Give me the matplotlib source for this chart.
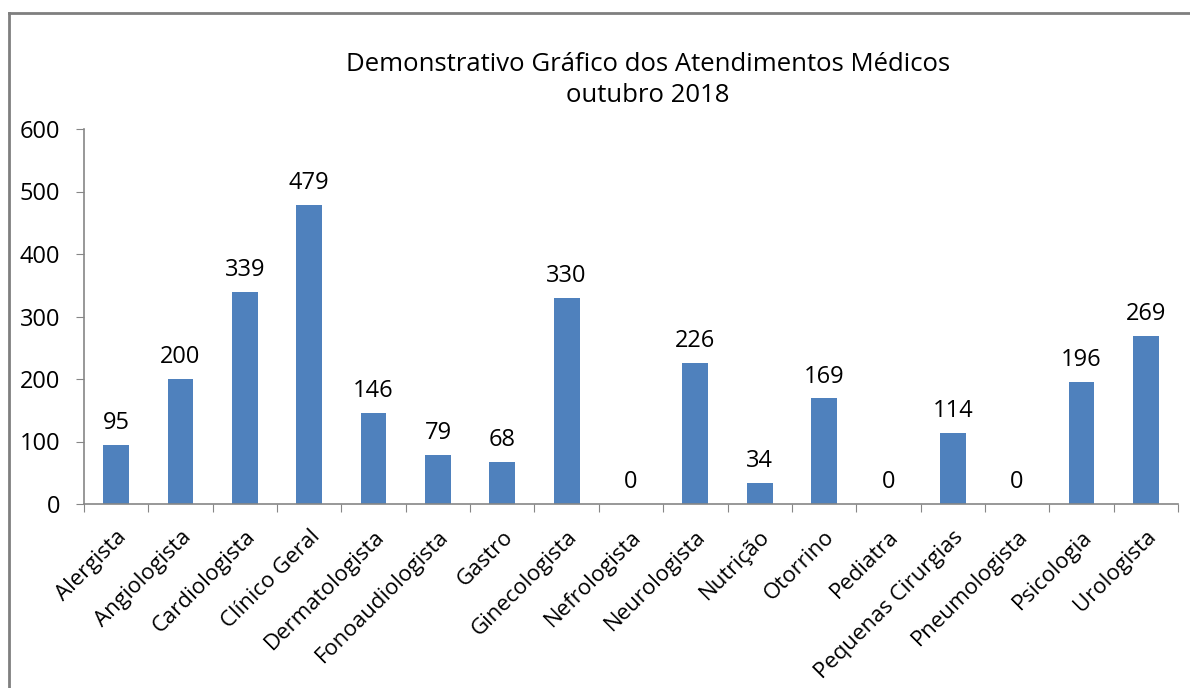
#!/usr/bin/env python3

import matplotlib
matplotlib.use("Agg")
import matplotlib.pyplot as plt
from matplotlib.lines import Line2D

# dados do grafico (outubro 2018)
especialidades = ["Alergista", "Angiologista", "Cardiologista", "Clínico Geral",
                  "Dermatologista", "Fonoaudiologista", "Gastro", "Ginecologista",
                  "Nefrologista", "Neurologista", "Nutrição", "Otorrino", "Pediatra",
                  "Pequenas Cirurgias", "Pneumologista", "Psicologia", "Urologista"]
atendimentos = [95, 200, 339, 479, 146, 79, 68, 330, 0, 226, 34, 169, 0, 114, 0, 196, 269]
yticks = [0, 100, 200, 300, 400, 500, 600]

titulo = "Demonstrativo Gráfico dos Atendimentos Médicos\noutubro 2018"

plt.rcParams['font.family'] = ['Open Sans', 'DejaVu Sans']

W, H = 1190, 688
fig = plt.figure(figsize=(W / 100, H / 100), dpi=100)
ax = fig.add_axes([84 / W, 1 - 504 / H, (1178 - 84) / W, (504 - 129) / H])

x = list(range(len(especialidades)))
ax.bar(x, atendimentos, width=0.4, color="#4F81BD", zorder=2)

for xi, v in zip(x, atendimentos):
    ax.annotate(str(v), (xi, v), xytext=(0, 7), textcoords="offset points",
                ha="center", va="bottom", fontsize=17)

ax.set_xlim(-0.5, len(especialidades) - 0.5)
ax.set_ylim(0, 600)
ax.set_yticks(yticks)
ax.tick_params(axis="y", labelsize=17, length=6, color="#868686", pad=11)

# ticks nas divisoes entre categorias
ax.set_xticks([i - 0.5 for i in range(len(especialidades) + 1)])
ax.set_xticklabels([])
ax.tick_params(axis="x", which="major", length=6, color="#868686")
ax.set_xticks(x, minor=True)
ax.set_xticklabels(especialidades, minor=True, rotation=45, ha="right",
                   rotation_mode="anchor", fontsize=16)
ax.tick_params(axis="x", which="minor", length=0, pad=16)

for s in ["top", "right"]:
    ax.spines[s].set_visible(False)
for s in ["left", "bottom"]:
    ax.spines[s].set_color("#868686")
    ax.spines[s].set_linewidth(1.2)

fig.text(648 / W, 1 - 80 / H, titulo, ha="center", va="center", fontsize=18.5,
         linespacing=1.3)

# moldura do grafico (so aparece topo e esquerda)
fig.add_artist(Line2D([9 / W, 9 / W], [0, 1 - 13 / H], color="#7F7F7F", lw=2,
                      transform=fig.transFigure))
fig.add_artist(Line2D([9 / W, 1], [1 - 13 / H, 1 - 13 / H], color="#7F7F7F", lw=2,
                      transform=fig.transFigure))

fig.savefig("out.png", dpi=100)
